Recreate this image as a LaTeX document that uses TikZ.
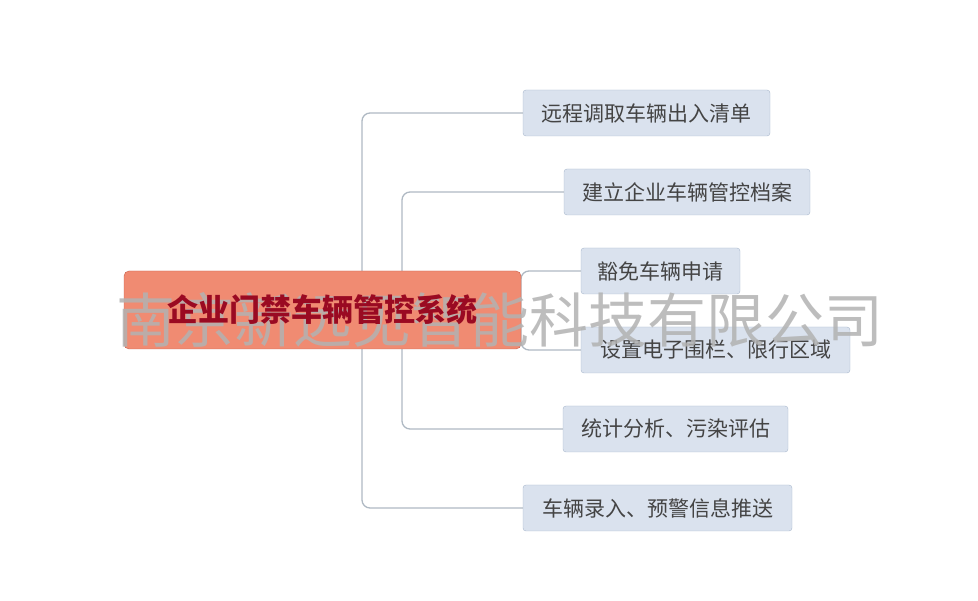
\documentclass[tikz,border=0pt]{standalone}
\usepackage{fontspec}
\setmainfont{Noto Sans CJK SC}
\begin{document}
\begin{tikzpicture}[x=1pt,y=-1pt,
	hub/.style={rectangle, rounded corners=5pt, draw=hubline, fill=hubfill, minimum width=397pt, minimum height=78pt, inner sep=0pt},
	leaf/.style={rectangle, rounded corners=3pt, draw=leafline, fill=leaffill, minimum height=46pt, inner sep=0pt, font=\fontsize{21}{23}\selectfont, text=leaftext},
	link/.style={draw=linkgray, line width=1.3pt, rounded corners=8pt}]
	\definecolor{hubfill}{HTML}{F08B72}
	\definecolor{hubline}{HTML}{C8604C}
	\definecolor{leaffill}{HTML}{DAE2EE}
	\definecolor{leafline}{HTML}{A9B8CC}
	\definecolor{leaftext}{HTML}{444444}
	\definecolor{linkgray}{HTML}{AFB9C3}
	\definecolor{titlered}{HTML}{9A0A22}
	\useasboundingbox (0,0) rectangle (978,601);
	
	%Nodes
	\node[leaf, minimum width=247pt]	(l1)	at (646.5,113) {远程调取车辆出入清单};
	\node[leaf, minimum width=246pt]	(l2)	at (687,192) {建立企业车辆管控档案};
	\node[leaf, minimum width=159pt]	(l3)	at (660.5,271) {豁免车辆申请};
	\node[leaf, minimum width=269pt]	(l4)	at (715.5,350) {设置电子围栏、限行区域};
	\node[leaf, minimum width=225pt]	(l5)	at (675.5,429) {统计分析、污染评估};
	\node[leaf, minimum width=269pt]	(l6)	at (657.5,508) {车辆录入、预警信息推送};
	
	%Lines
	\draw[link] (l1.west) -- (362,113) -- (362,508) -- (l6.west);
	\draw[link] (l2.west) -- (402,192) -- (402,429) -- (l5.west);
	\draw[link] (l3.west) -- (521,271) -- (521,350) -- (l4.west);
	
	\node[hub] (sys) at (322.5,310) {};
	\node[text=gray!60, opacity=0.85, font=\fontsize{59}{62}\selectfont] (mark) at (500,320) {南京新远见智能科技有限公司};
	\node[text=titlered, font=\fontsize{31}{34}\selectfont\bfseries] (title) at (sys) {企业门禁车辆管控系统};
\end{tikzpicture}
\end{document}
